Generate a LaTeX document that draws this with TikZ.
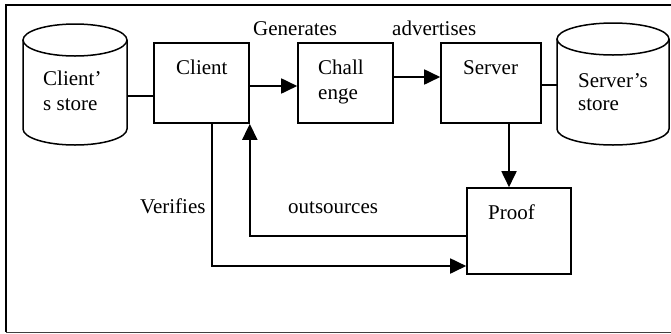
\documentclass[tikz,border=0pt]{standalone}
\usepackage{fontspec}
\setmainfont{Liberation Serif}
\usetikzlibrary{arrows.meta}
\begin{document}
\begin{tikzpicture}[x=1pt,y=1pt,
  box/.style={draw,line width=1.6pt,inner sep=0pt},
  cyl/.style={line width=1.5pt},
  conn/.style={line width=1.8pt},
  thinconn/.style={line width=1.3pt},
  arr/.style={conn,-{Triangle[length=16pt,width=15pt]}},
  txt/.style={font=\fontsize{21}{25}\selectfont,inner sep=0pt,anchor=base west}]
\useasboundingbox (0,0) rectangle (671,-333);
% frame
\draw[line width=2pt] (671,-5) -- (6,-5) -- (6,-332);
\draw[line width=1pt,black!75] (6,-332) -- (671,-332);
% boxes
\node[box,minimum width=95pt,minimum height=80pt] (client) at (201.5,-83) {};
\node[box,minimum width=95pt,minimum height=80pt] (chal) at (345.5,-83) {};
\node[box,minimum width=100pt,minimum height=80pt] (server) at (491,-83) {};
\node[box,minimum width=104pt,minimum height=86pt] (proof) at (519,-231) {};
% cylinders
\draw[cyl] (75,-40) ellipse [x radius=52pt,y radius=16pt];
\draw[cyl] (23,-40) -- (23,-129) arc[start angle=180,end angle=360,x radius=52pt,y radius=16pt] -- (127,-40);
\coordinate (cstore) at (127,-96);
\draw[cyl] (613,-39) ellipse [x radius=56pt,y radius=16pt];
\draw[cyl] (557,-39) -- (557,-129) arc[start angle=180,end angle=360,x radius=56pt,y radius=16pt] -- (669,-39);
\coordinate (sstore) at (557,-85);
% texts
\node[txt] (tcs1) at (43,-85) {Client’};
\node[txt] (tcs2) at (43,-110) {s store};
\node[txt] (tclient) at (176,-74) {Client};
\node[txt] (tch1) at (318,-74) {Chall};
\node[txt] (tch2) at (318,-99) {enge};
\node[txt] (tserver) at (463,-74) {Server};
\node[txt] (tss1) at (578,-87) {Server’s};
\node[txt] (tss2) at (578,-110) {store};
\node[txt] (tproof) at (488,-219) {Proof};
\node[txt] (tgen) at (253,-35) {Generates};
\node[txt] (tadv) at (392,-35) {advertises};
\node[txt] (tver) at (140,-213) {Verifies};
\node[txt] (tout) at (288,-213) {outsources};
% connectors
\draw[thinconn] (cstore) -- (cstore -| client.west);
\draw[thinconn] ([yshift=-2pt]server.east) -- (sstore);
\draw[arr] ([yshift=-3pt]client.east) -- ([yshift=-3pt]chal.west);
\draw[arr] ([yshift=6pt]chal.east) -- ([yshift=6pt]server.west);
\draw[arr] ([xshift=18pt]server.south) -- ([xshift=-10pt]proof.north);
\draw[arr] ([xshift=10.5pt]client.south) |- ([yshift=-35pt]proof.west);
\draw[arr] ([yshift=-5pt]proof.west) -| (client.south east);
\end{tikzpicture}
\end{document}
